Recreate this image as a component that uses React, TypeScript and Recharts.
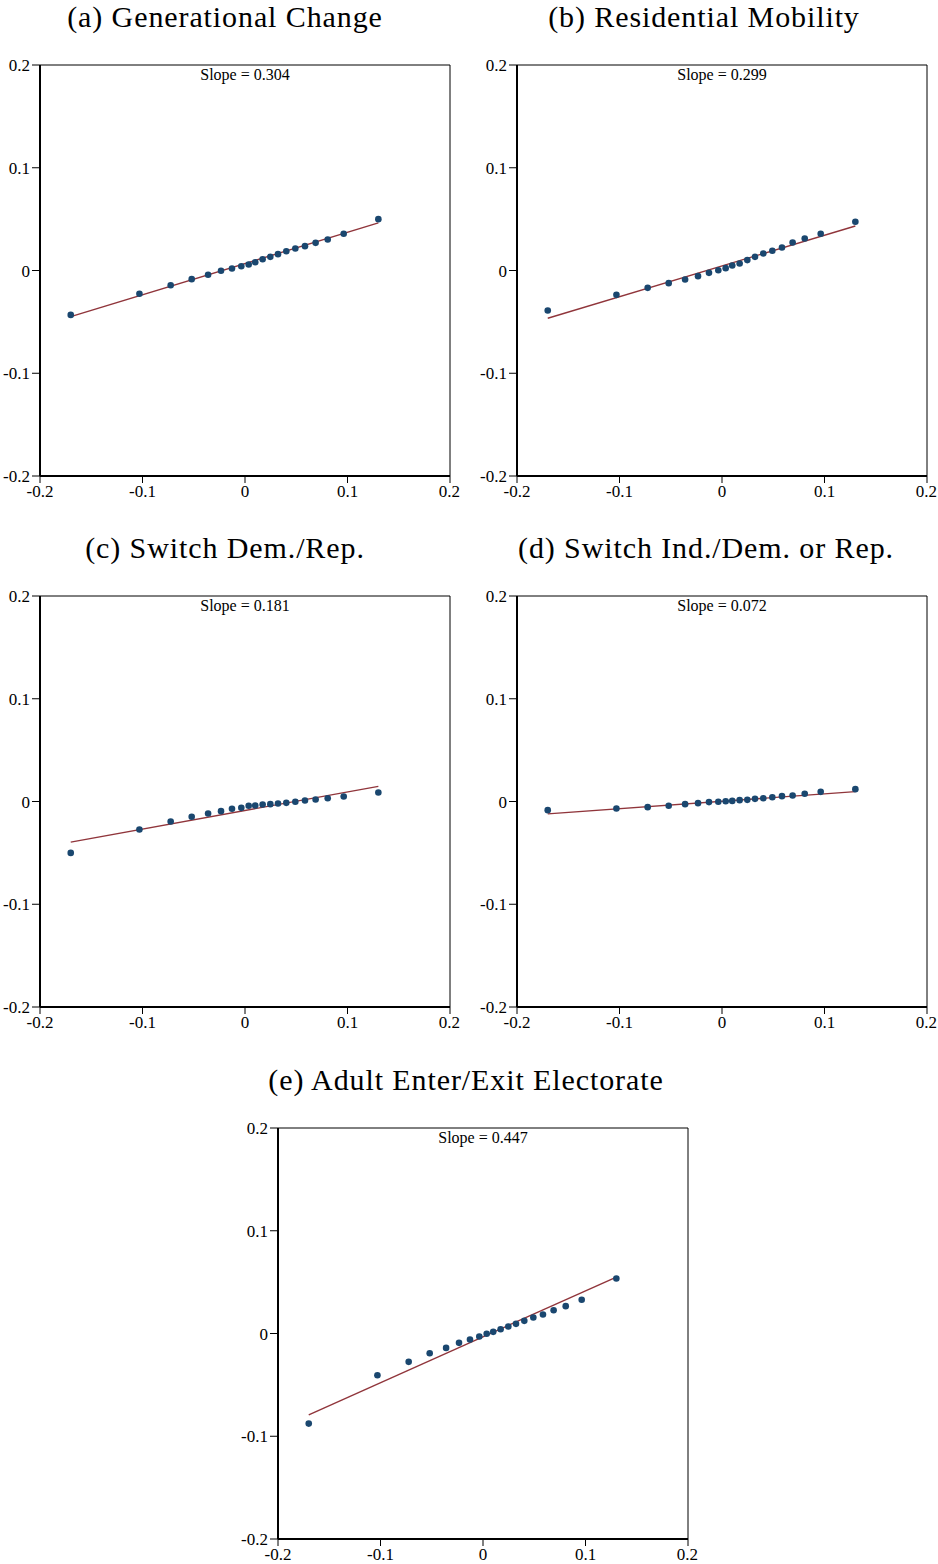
import {
  ReferenceArea,
  ReferenceLine,
  Scatter,
  ScatterChart,
  XAxis,
  YAxis,
} from "recharts";

// x values are shared by all five panels (quantile bins)
const binX = [
  -0.17, -0.103, -0.0725, -0.052, -0.036, -0.0234, -0.0127, -0.0036, 0.0036,
  0.01, 0.0172, 0.0247, 0.0322, 0.0403, 0.0491, 0.0585, 0.0689, 0.0807, 0.0963,
  0.1301,
];

const genChangeY = [
  -0.0432, -0.0227, -0.0143, -0.0084, -0.0042, -0.0003, 0.0019, 0.0042, 0.0058,
  0.0081, 0.011, 0.0133, 0.0159, 0.0188, 0.0214, 0.0237, 0.0269, 0.0302,
  0.0357, 0.05,
];
const mobilityY = [
  -0.039, -0.0237, -0.0169, -0.0123, -0.0088, -0.0055, -0.0023, 0.0003, 0.0023,
  0.0049, 0.0068, 0.0101, 0.0133, 0.0166, 0.0192, 0.0224, 0.0273, 0.0312,
  0.0357, 0.0474,
];
const switchDemRepY = [
  -0.05, -0.0273, -0.0195, -0.0149, -0.0117, -0.0094, -0.0071, -0.0062,
  -0.0042, -0.0039, -0.0029, -0.0026, -0.0019, -0.0013, -0.0003, 0.001, 0.0019,
  0.0032, 0.0049, 0.0088,
];
const switchIndY = [
  -0.0084, -0.0068, -0.0055, -0.0042, -0.0026, -0.0016, -0.0006, -0.0003,
  0.0003, 0.0006, 0.0013, 0.0016, 0.0026, 0.0032, 0.0042, 0.0052, 0.0058,
  0.0075, 0.0094, 0.012,
];
const enterExitY = [
  -0.0877, -0.0406, -0.0276, -0.0192, -0.014, -0.0091, -0.0058, -0.0029,
  -0.0003, 0.0016, 0.0042, 0.0068, 0.0094, 0.0123, 0.0156, 0.0185, 0.0227,
  0.0266, 0.0328, 0.0536,
];

const panelTitles = [
  "(a) Generational Change",
  "(b) Residential Mobility",
  "(c) Switch Dem./Rep.",
  "(d) Switch Ind./Dem. or Rep.",
  "(e) Adult Enter/Exit Electorate",
];
const panelSeries = [genChangeY, mobilityY, switchDemRepY, switchIndY, enterExitY];
const slopes = [0.304, 0.299, 0.181, 0.072, 0.447];
const intercepts = [0.0068, 0.0044, -0.0088, 0.0002, -0.0032];

const axisTicks = [-0.2, -0.1, 0, 0.1, 0.2];

// plot box top-left corners on the page
const boxes = [
  { left: 40, top: 65, titleX: 225 },
  { left: 517, top: 65, titleX: 704 },
  { left: 40, top: 596, titleX: 225 },
  { left: 517, top: 596, titleX: 706 },
  { left: 278, top: 1128, titleX: 466 },
];

const NAVY = "#1a476f";
const MAROON = "#90353b";
const SERIF = "'Liberation Serif', 'Times New Roman', serif";

const fmt = (v: number) => (v === 0 ? "0" : String(Number(v.toFixed(1))));

const Dot = (props: any) => {
  const { cx, cy } = props;
  if (cx == null || cy == null) return null;
  return <circle cx={cx} cy={cy} r={3.3} fill={NAVY} />;
};

function Panel({ idx }: { idx: number }) {
  const ys = panelSeries[idx];
  const data = binX.map((x, i) => ({ x, y: ys[i] }));
  const x0 = binX[0];
  const x1 = binX[binX.length - 1];
  const b = intercepts[idx];
  const m = slopes[idx];
  const box = boxes[idx];
  return (
    <div style={{ position: "absolute", left: box.left - 40, top: box.top - 10 }}>
      <ScatterChart
        width={460}
        height={451}
        margin={{ top: 10, right: 10, bottom: 0, left: 0 }}
      >
        <ReferenceArea
          x1={-0.2}
          x2={0.2}
          y1={-0.2}
          y2={0.2}
          fill="none"
          stroke="#000"
          strokeWidth={1}
          fillOpacity={0}
          label={{
            value: `Slope = ${slopes[idx].toFixed(3)}`,
            position: "insideTop",
            offset: 4,
            fill: "#000",
            fontSize: 16,
            fontFamily: SERIF,
          }}
        />
        <XAxis
          type="number"
          dataKey="x"
          domain={[-0.2, 0.2]}
          ticks={axisTicks}
          tickFormatter={fmt}
          height={30}
          allowDataOverflow
          axisLine={{ stroke: "#000", strokeWidth: 2 }}
          tickLine={{ stroke: "#000" }}
          tickSize={7}
          tick={{ fill: "#000", fontSize: 17, fontFamily: SERIF }}
        />
        <YAxis
          type="number"
          dataKey="y"
          domain={[-0.2, 0.2]}
          ticks={axisTicks}
          tickFormatter={fmt}
          width={40}
          allowDataOverflow
          axisLine={{ stroke: "#000", strokeWidth: 2 }}
          tickLine={{ stroke: "#000" }}
          tickSize={8}
          tickMargin={2}
          tick={{ fill: "#000", fontSize: 17, fontFamily: SERIF }}
        />
        <ReferenceLine
          segment={[
            { x: x0, y: m * x0 + b },
            { x: x1, y: m * x1 + b },
          ]}
          stroke={MAROON}
          strokeWidth={1.4}
        />
        <Scatter data={data} shape={<Dot />} isAnimationActive={false} />
      </ScatterChart>
    </div>
  );
}

export default function App() {
  return (
    <div
      style={{
        position: "absolute",
        left: 0,
        top: 0,
        width: 938,
        height: 1564,
        background: "#fff",
      }}
    >
      <svg
        width={938}
        height={1564}
        style={{ position: "absolute", left: 0, top: 0 }}
      >
        {panelTitles.map((t, i) => (
          <text
            key={t}
            x={boxes[i].titleX}
            y={boxes[i].top - 38}
            textAnchor="middle"
            fontFamily={SERIF}
            fontSize={30}
            letterSpacing={0.9}
            fill="#000"
          >
            {t}
          </text>
        ))}
      </svg>
      {panelTitles.map((t, i) => (
        <Panel key={t} idx={i} />
      ))}
    </div>
  );
}
